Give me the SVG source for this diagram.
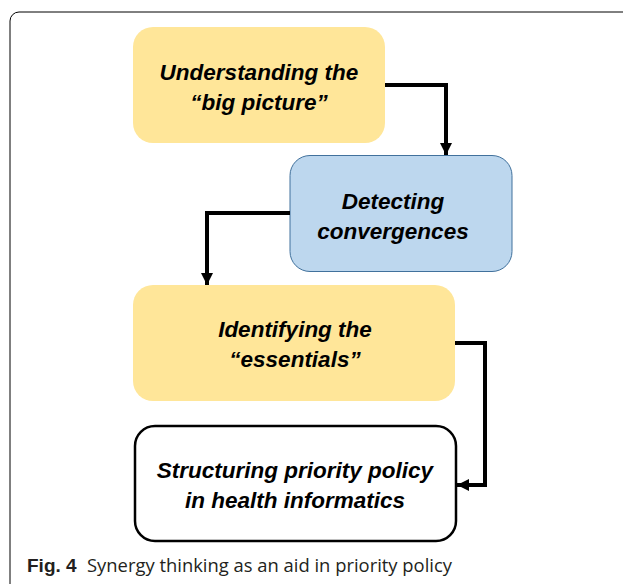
<svg xmlns="http://www.w3.org/2000/svg" width="623" height="584" viewBox="0 0 623 584">
<defs>
<style>
.t{font-family:"Liberation Sans",Arial,sans-serif;font-weight:bold;font-style:italic;font-size:22.5px;fill:#000;text-anchor:middle}
.c{fill:none;stroke:#000;stroke-width:4;stroke-linejoin:miter}
.cap{font-family:"Open Sans","Liberation Sans",sans-serif;font-size:18px;fill:#231f20}
</style>
<marker id="ah" markerUnits="userSpaceOnUse" markerWidth="14" markerHeight="14" refX="12" refY="6" orient="auto">
<path d="M0,0 L12,6 L0,12 Z" fill="#000"/>
</marker>
</defs>
<rect x="10" y="12" width="700" height="600" rx="9" fill="#fff" stroke="#000" stroke-width="1"/>
<g id="n1">
<rect x="133" y="27" width="252" height="116" rx="20" fill="#FFE699"/>
<text class="t" x="259" y="80">Understanding the</text>
<text class="t" x="259" y="110">“big picture”</text>
</g>
<g id="n2">
<rect x="290" y="155.5" width="222" height="116" rx="20" fill="#BDD7EE" stroke="#41719C" stroke-width="1"/>
<text class="t" x="393" y="209">Detecting</text>
<text class="t" x="393" y="239">convergences</text>
</g>
<g id="n3">
<rect x="133" y="285" width="322" height="116" rx="20" fill="#FFE699"/>
<text class="t" x="295" y="337">Identifying the</text>
<text class="t" x="295" y="367">“essentials”</text>
</g>
<g id="n4">
<rect x="135" y="426" width="321" height="115" rx="20" fill="#fff" stroke="#000" stroke-width="2.5"/>
<text class="t" x="295" y="478">Structuring priority policy</text>
<text class="t" x="295" y="508">in health informatics</text>
</g>
<g id="connectors">
<path class="c" d="M385 85 H446 V155" marker-end="url(#ah)"/>
<path class="c" d="M290 213 H207 V285" marker-end="url(#ah)"/>
<path class="c" d="M455 343 H485 V485 H457" marker-end="url(#ah)"/>
</g>
<text class="cap" x="27" y="572"><tspan font-weight="bold" font-family="Liberation Sans, sans-serif" font-size="19">Fig. 4</tspan><tspan x="87" textLength="365" lengthAdjust="spacingAndGlyphs">Synergy thinking as an aid in priority policy</tspan></text>
</svg>
